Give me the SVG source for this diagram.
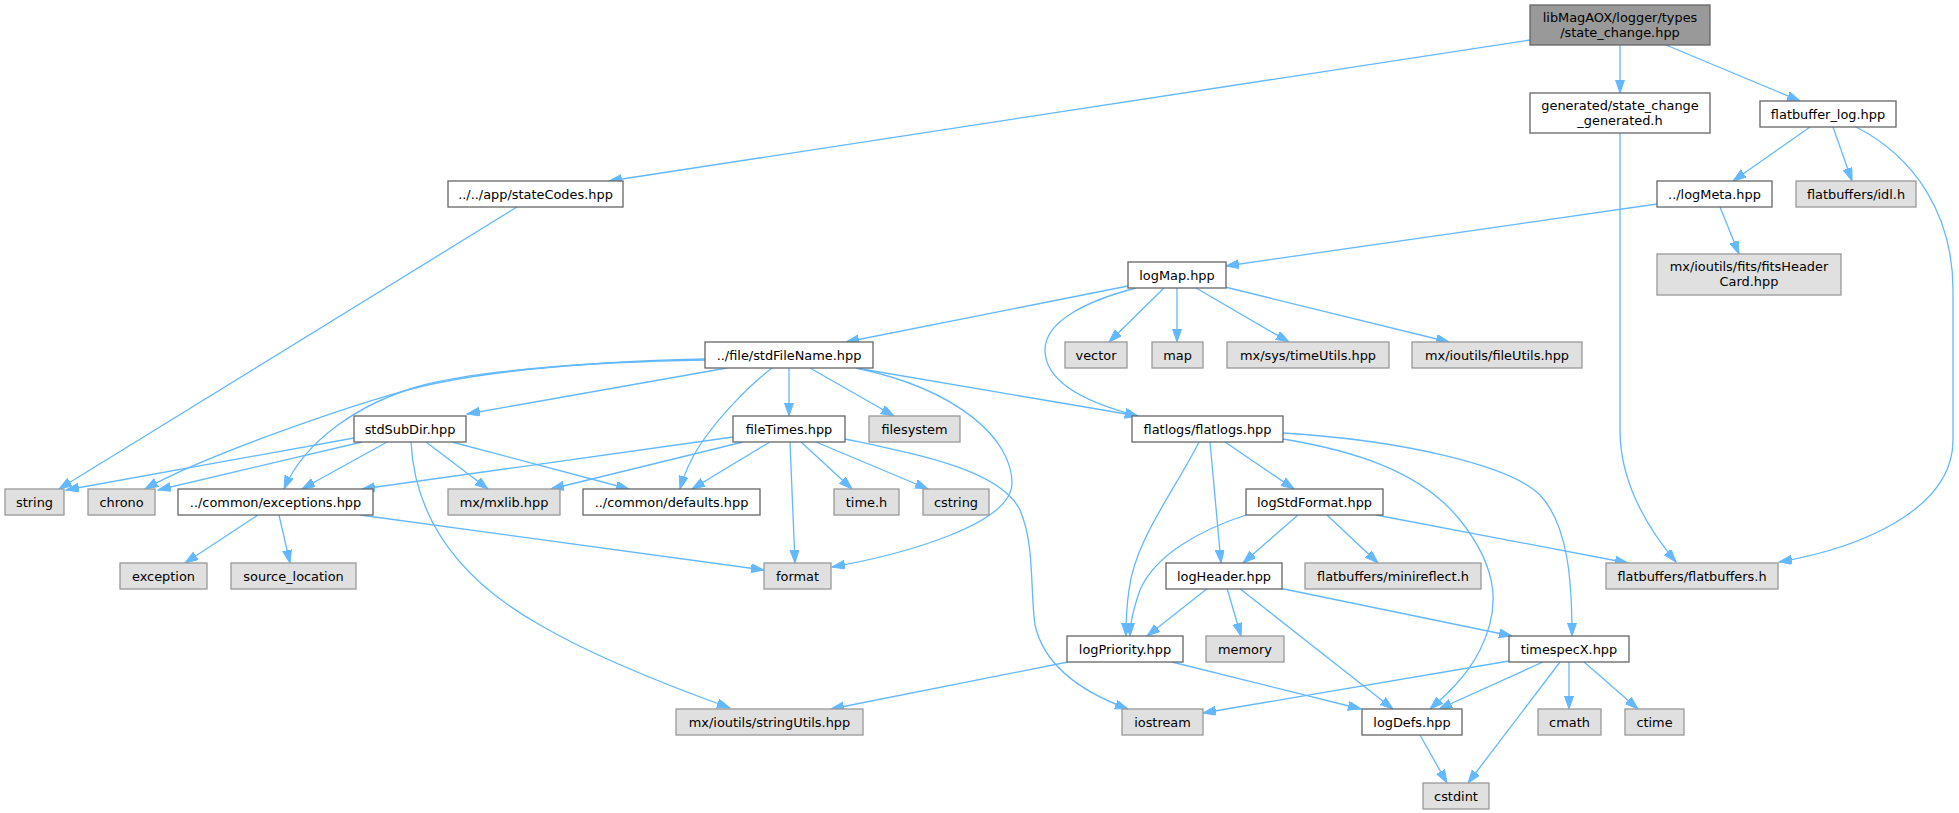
<svg xmlns="http://www.w3.org/2000/svg" width="1959" height="813" viewBox="0 0 1959 813">
<style>
text{font-family:"DejaVu Sans",sans-serif;font-size:12.9px;fill:#000;text-anchor:middle}
.m rect{fill:#999999;stroke:#666666;stroke-width:1.3}
.w rect{fill:#ffffff;stroke:#666666;stroke-width:1.3}
.g rect{fill:#e0e0e0;stroke:#999999;stroke-width:1.3}
#edges path{fill:none;stroke:#63b8ff;stroke-width:1.3;marker-end:url(#a)}
</style>
<defs>
<marker id="a" markerUnits="userSpaceOnUse" markerWidth="14" markerHeight="10" refX="13" refY="4.5" orient="auto">
<path d="M0,0 L13,4.5 L0,9 z" fill="#63b8ff" stroke="#63b8ff" stroke-width="1"/>
</marker>
</defs>
<rect width="1959" height="813" fill="#ffffff"/>
<g id="edges">
<path d="M1530,40 L609,181"/>
<path d="M1620,45 L1620,93"/>
<path d="M1666,45 L1800,101"/>
<path d="M1620,133 L1620,430 C1620,480 1645,525 1676,562"/>
<path d="M1810,127 L1733,181"/>
<path d="M1833,127 L1852,181"/>
<path d="M1856,127 C1915,157 1953,215 1953,290 L1953,440 C1953,510 1860,548 1779,562"/>
<path d="M1657,204 L1226,266"/>
<path d="M1720,207 L1739,254"/>
<path d="M1128,286 L846,342"/>
<path d="M1136,288 C1090,300 1045,320 1045,350 C1045,385 1095,405 1138,416"/>
<path d="M1164,288 L1109,342"/>
<path d="M1177,288 L1177,342"/>
<path d="M1196,288 L1289,342"/>
<path d="M1225,287 L1449,342"/>
<path d="M727,368 L467,414"/>
<path d="M705,359 C580,362 470,372 400,392 C330,412 200,458 145,489"/>
<path d="M705,360 C580,362 470,372 420,386 C360,403 305,440 284,489"/>
<path d="M789,368 L789,416"/>
<path d="M810,368 L894,416"/>
<path d="M772,368 C750,385 720,415 700,445 C690,460 684,475 680,489"/>
<path d="M856,368 C960,390 1012,440 1012,483 C1012,525 900,555 832,567"/>
<path d="M856,368 L1138,416"/>
<path d="M354,438 L66,490"/>
<path d="M362,442 L158,490"/>
<path d="M387,442 L302,489"/>
<path d="M426,442 L488,489"/>
<path d="M452,442 L629,489"/>
<path d="M411,442 C415,520 460,580 540,625 C600,660 680,690 730,708"/>
<path d="M733,437 L362,489"/>
<path d="M743,442 L551,489"/>
<path d="M770,442 L692,489"/>
<path d="M790,442 L795,563"/>
<path d="M801,442 L852,489"/>
<path d="M816,442 L928,489"/>
<path d="M845,439 C920,455 1000,470 1020,510 C1035,545 1030,590 1035,625 C1045,670 1090,695 1128,709"/>
<path d="M258,515 L185,563"/>
<path d="M279,515 L290,563"/>
<path d="M360,515 L764,570"/>
<path d="M1199,442 C1175,490 1135,540 1129,590 C1126,610 1126,625 1126,636"/>
<path d="M1210,442 L1221,563"/>
<path d="M1225,442 L1294,489"/>
<path d="M1283,439 C1350,450 1420,470 1460,520 C1500,570 1500,610 1480,650 C1465,680 1440,700 1430,709"/>
<path d="M1283,433 C1400,440 1510,465 1540,495 C1568,525 1572,580 1572,636"/>
<path d="M1246,515 C1200,530 1155,555 1140,590 C1133,610 1130,625 1130,636"/>
<path d="M1298,515 L1243,563"/>
<path d="M1327,515 L1378,563"/>
<path d="M1376,515 L1628,563"/>
<path d="M1208,588 L1147,636"/>
<path d="M1227,588 L1241,636"/>
<path d="M1239,588 L1393,709"/>
<path d="M1279,588 L1512,636"/>
<path d="M1068,662 L831,709"/>
<path d="M1172,662 L1361,709"/>
<path d="M1509,661 L1203,713"/>
<path d="M1543,662 L1439,709"/>
<path d="M1560,662 L1468,783"/>
<path d="M1569,662 L1569,709"/>
<path d="M1584,662 L1638,709"/>
<path d="M1420,735 L1447,783"/>
<path d="M517,207 L59,489"/>
</g>
<g id="main" class="m"><rect x="1530" y="5" width="180" height="40"/><text x="1620" y="22">libMagAOX/logger/types</text><text x="1620" y="37">/state_change.hpp</text></g>
<g id="generated" class="w"><rect x="1530" y="93" width="180" height="40"/><text x="1620" y="110">generated/state_change</text><text x="1620" y="125">_generated.h</text></g>
<g id="flatbuffer_log" class="w"><rect x="1760" y="101" width="136" height="26"/><text x="1828" y="118.5">flatbuffer_log.hpp</text></g>
<g id="stateCodes" class="w"><rect x="448" y="181" width="175" height="26"/><text x="535.5" y="198.5">../../app/stateCodes.hpp</text></g>
<g id="logMeta" class="w"><rect x="1657" y="181" width="115" height="26"/><text x="1714.5" y="198.5">../logMeta.hpp</text></g>
<g id="idl" class="g"><rect x="1796" y="181" width="120" height="26"/><text x="1856" y="198.5">flatbuffers/idl.h</text></g>
<g id="fitsHeaderCard" class="g"><rect x="1657" y="254" width="184" height="41"/><text x="1749" y="271">mx/ioutils/fits/fitsHeader</text><text x="1749" y="286">Card.hpp</text></g>
<g id="logMap" class="w"><rect x="1128" y="262" width="98" height="26"/><text x="1177" y="279.5">logMap.hpp</text></g>
<g id="stdFileName" class="w"><rect x="705" y="342" width="168" height="26"/><text x="789" y="359.5">../file/stdFileName.hpp</text></g>
<g id="vector" class="g"><rect x="1065" y="342" width="62" height="26"/><text x="1096" y="359.5">vector</text></g>
<g id="map" class="g"><rect x="1152" y="342" width="51" height="26"/><text x="1177.5" y="359.5">map</text></g>
<g id="timeUtils" class="g"><rect x="1227" y="342" width="162" height="26"/><text x="1308" y="359.5">mx/sys/timeUtils.hpp</text></g>
<g id="fileUtils" class="g"><rect x="1412" y="342" width="170" height="26"/><text x="1497" y="359.5">mx/ioutils/fileUtils.hpp</text></g>
<g id="stdSubDir" class="w"><rect x="354" y="416" width="112" height="26"/><text x="410" y="433.5">stdSubDir.hpp</text></g>
<g id="fileTimes" class="w"><rect x="733" y="416" width="112" height="26"/><text x="789" y="433.5">fileTimes.hpp</text></g>
<g id="filesystem" class="g"><rect x="869" y="416" width="91" height="26"/><text x="914.5" y="433.5">filesystem</text></g>
<g id="flatlogs" class="w"><rect x="1132" y="416" width="151" height="26"/><text x="1207.5" y="433.5">flatlogs/flatlogs.hpp</text></g>
<g id="string" class="g"><rect x="5" y="489" width="59" height="26"/><text x="34.5" y="506.5">string</text></g>
<g id="chrono" class="g"><rect x="88" y="489" width="67" height="26"/><text x="121.5" y="506.5">chrono</text></g>
<g id="exceptions" class="w"><rect x="178" y="489" width="195" height="26"/><text x="275.5" y="506.5">../common/exceptions.hpp</text></g>
<g id="mxlib" class="g"><rect x="448" y="489" width="112" height="26"/><text x="504" y="506.5">mx/mxlib.hpp</text></g>
<g id="defaults" class="w"><rect x="583" y="489" width="177" height="26"/><text x="671.5" y="506.5">../common/defaults.hpp</text></g>
<g id="timeh" class="g"><rect x="834" y="489" width="65" height="26"/><text x="866.5" y="506.5">time.h</text></g>
<g id="cstring" class="g"><rect x="923" y="489" width="66" height="26"/><text x="956" y="506.5">cstring</text></g>
<g id="logStdFormat" class="w"><rect x="1246" y="489" width="137" height="26"/><text x="1314.5" y="506.5">logStdFormat.hpp</text></g>
<g id="exception" class="g"><rect x="120" y="563" width="87" height="26"/><text x="163.5" y="580.5">exception</text></g>
<g id="source_location" class="g"><rect x="231" y="563" width="125" height="26"/><text x="293.5" y="580.5">source_location</text></g>
<g id="format" class="g"><rect x="764" y="563" width="67" height="26"/><text x="797.5" y="580.5">format</text></g>
<g id="logHeader" class="w"><rect x="1166" y="563" width="116" height="26"/><text x="1224" y="580.5">logHeader.hpp</text></g>
<g id="minireflect" class="g"><rect x="1305" y="563" width="176" height="26"/><text x="1393" y="580.5">flatbuffers/minireflect.h</text></g>
<g id="flatbuffers" class="g"><rect x="1606" y="563" width="172" height="26"/><text x="1692" y="580.5">flatbuffers/flatbuffers.h</text></g>
<g id="logPriority" class="w"><rect x="1067" y="636" width="116" height="26"/><text x="1125" y="653.5">logPriority.hpp</text></g>
<g id="memory" class="g"><rect x="1206" y="636" width="78" height="26"/><text x="1245" y="653.5">memory</text></g>
<g id="timespecX" class="w"><rect x="1509" y="636" width="120" height="26"/><text x="1569" y="653.5">timespecX.hpp</text></g>
<g id="stringUtils" class="g"><rect x="676" y="709" width="187" height="26"/><text x="769.5" y="726.5">mx/ioutils/stringUtils.hpp</text></g>
<g id="iostream" class="g"><rect x="1122" y="709" width="81" height="26"/><text x="1162.5" y="726.5">iostream</text></g>
<g id="logDefs" class="w"><rect x="1362" y="709" width="100" height="26"/><text x="1412" y="726.5">logDefs.hpp</text></g>
<g id="cmath" class="g"><rect x="1538" y="709" width="63" height="26"/><text x="1569.5" y="726.5">cmath</text></g>
<g id="ctime" class="g"><rect x="1625" y="709" width="59" height="26"/><text x="1654.5" y="726.5">ctime</text></g>
<g id="cstdint" class="g"><rect x="1423" y="783" width="66" height="26"/><text x="1456" y="800.5">cstdint</text></g>
</svg>
